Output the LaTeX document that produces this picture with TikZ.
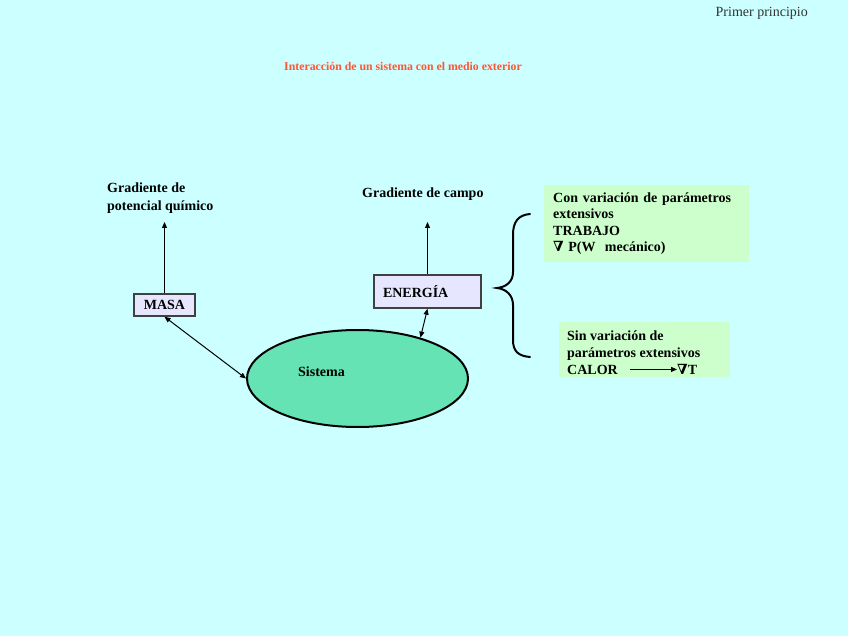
\documentclass[tikz,border=0pt]{standalone}
\usepackage{fontspec}
\setmainfont{Liberation Serif}
\newfontfamily\dvs{DejaVu Serif}
\usetikzlibrary{arrows.meta,shapes.geometric}
\definecolor{bgc}{HTML}{CCFFFF}
\definecolor{lav}{HTML}{E6E6FF}
\definecolor{grn}{HTML}{CCFFCC}
\definecolor{ell}{HTML}{66E3B4}
\definecolor{ttl}{HTML}{FF5533}
\begin{document}
\begin{tikzpicture}[x=1pt,y=-1pt,
  lbl/.style={font=\bfseries\fontsize{14}{18}\selectfont, inner sep=0pt, align=left},
  pbox/.style={draw=black!75, line width=1.5pt, fill=lav, font=\bfseries\fontsize{14}{16}\selectfont},
  gbox/.style={fill=grn, inner sep=0pt},
  gtxt/.style={font=\bfseries\fontsize{14}{16.5}\selectfont, inner sep=0pt, align=left},
  arr/.style={line width=1pt, -{Triangle[length=6pt,width=5pt]}},
  darr/.style={line width=1pt, {Triangle[length=6pt,width=5pt]}-{Triangle[length=6pt,width=5pt]}}]
\fill[bgc] (0,0) rectangle (848,636);
\useasboundingbox (0,0) rectangle (848,636);

\node[inner sep=0pt, anchor=north east, font=\fontsize{14}{16}\selectfont, text=black!80] (pp) at (808,7) {Primer principio};
\node[inner sep=0pt, anchor=north west, font=\bfseries\fontsize{11.8}{13}\selectfont, text=ttl] (title) at (284,62) {Interacción de un sistema con el medio exterior};

% left
\node[lbl, anchor=north west] (gpq) at (107,183) {Gradiente de\\potencial químico};
\node[pbox, minimum width=61pt, minimum height=22pt, inner sep=0pt] (masa) at (164.5,305) {MASA};
\coordinate (t1) at (164.5,222);
\draw[arr] (masa.north) -- (t1);

% energia
\node[lbl, anchor=north west] (gc) at (362,188) {Gradiente de campo};
\node[pbox, minimum width=107pt, minimum height=33pt, text width=89pt, inner xsep=9pt, inner ysep=0pt, align=left] (ener) at (427.5,291.5) {ENERGÍA};
\coordinate (t2) at (427.5,222);
\draw[arr] (ener.north) -- (t2);

% sistema
\node[ellipse, draw=black, line width=2pt, fill=ell, minimum width=221pt, minimum height=97pt, inner sep=0pt] (sis) at (357.5,378.5) {};
\node[lbl, anchor=west] (sislbl) at (298,372) {Sistema};
\draw[darr] (masa.south) -- (sis.west);
\draw[darr] (ener.south) -- (sis.33);

% brace
\draw[line width=2pt, line cap=round]
  (530,214) .. controls (518,215) and (513,222) .. (513,235) -- (513,272)
  .. controls (513,282) and (506,287) .. (497,288)
  .. controls (506,289) and (513,295) .. (513,305) -- (513,340)
  .. controls (513,351) and (518,356) .. (530,357);

% green box 1
\node[gbox, gtxt, anchor=north west, minimum width=205pt, minimum height=77pt, text width=187pt, inner xsep=9pt] (g1) at (544,185)
  {Con variación de parámetros\\extensivos\\TRABAJO\\{\dvs ∇}\ P(W\ \ mecánico)};

% green box 2
\node[gbox, anchor=north west, minimum width=171pt, minimum height=55pt] (g2) at (559,322) {};
\node[gtxt, anchor=north west] (g2t) at (567,331) {Sin variación de\\parámetros extensivos};
\node[gtxt, anchor=base west] (calor) at (567,374) {CALOR};
\node[gtxt, anchor=base west] (nab) at (677,374) {{\dvs ∇}T};
\draw[arr] ([xshift=12pt]calor.east) -- (calor.east -| nab.west);
\end{tikzpicture}
\end{document}
